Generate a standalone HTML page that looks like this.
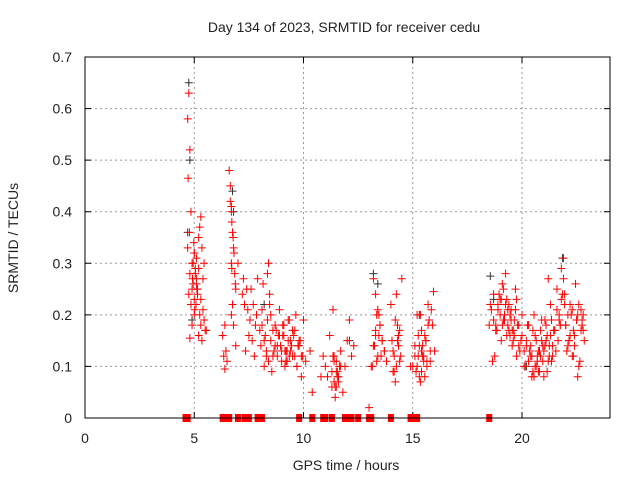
<!DOCTYPE html>
<html><head><meta charset="utf-8"><style>
body{margin:0;background:#fff;}
svg text{font-family:"Liberation Sans",sans-serif;font-size:14px;fill:#222;}
</style></head><body>
<svg id="chart" width="640" height="480" viewBox="0 0 640 480">
<text x="344" y="32" text-anchor="middle">Day 134 of 2023, SRMTID for receiver cedu</text>
<text x="346" y="470" text-anchor="middle">GPS time / hours</text>
<text transform="translate(18,238) rotate(-90)" text-anchor="middle">SRMTID / TECUs</text>
<g id="grid"></g><g id="ticks"></g><g id="black"></g><g id="red"></g>
<rect x="85" y="57" width="525" height="361" fill="none" stroke="#000" stroke-width="1"/>
</svg>
<script>
const xTicks=[0,5,10,15,20];
const yTicks=[0,0.1,0.2,0.3,0.4,0.5,0.6,0.7];
const yTickLabels=["0","0.1","0.2","0.3","0.4","0.5","0.6","0.7"];
const zeroTimes=[4.6,4.7,6.3,6.4,6.6,7.0,7.3,7.5,7.9,8.1,9.8,10.4,10.9,11.0,11.3,11.9,12.0,12.2,12.5,13.0,13.1,14.0,14.9,15.0,15.2,18.5];
const redTimes=[4.7,4.75,4.8,4.72,4.85,4.78,4.7,4.9,4.8,4.95,4.75,4.85,5.0,4.9,5.05,5.1,4.8,5.2,5.0,5.3,5.25,5.35,5.4,5.15,5.4,5.45,5.5,5.2,5.3,5.1,4.9,5.0,5.45,5.55,
6.3,6.35,6.4,6.4,6.45,6.5,6.6,6.65,6.7,6.72,6.75,6.8,6.7,6.85,6.9,6.75,6.7,6.8,6.9,7.0,7.2,7.25,7.3,7.35,7.5,7.55,7.6,7.7,7.8,7.85,7.9,
8.0,8.05,8.1,8.2,8.3,8.35,8.4,8.15,8.25,8.5,8.6,8.7,8.8,8.9,9.0,9.1,9.2,9.3,9.4,9.5,9.6,9.7,9.8,9.9,10.0,8.45,8.65,8.85,9.05,9.25,9.45,9.65,9.85,9.95,8.55,8.75,9.15,9.35,9.55,9.75,10.1,10.3,10.4,
10.8,10.9,11.0,11.1,11.2,11.3,11.4,11.5,11.6,11.7,11.8,11.9,12.0,12.1,12.2,12.3,11.35,11.45,11.55,11.65,11.5,11.4,
13.0,13.1,13.2,13.3,13.4,13.5,13.6,13.7,13.8,13.25,13.35,13.45,13.55,13.15,13.3,14.0,14.1,14.2,14.3,14.4,14.5,14.15,14.25,14.35,14.45,14.2,14.3,
14.9,15.0,15.1,15.2,15.3,15.4,15.5,15.6,15.7,15.8,15.9,16.0,15.15,15.35,15.55,15.75,15.95,15.25,15.45,15.65,15.85,15.4,
18.5,18.6,18.7,18.8,18.9,19.0,19.1,19.2,19.3,19.4,19.5,19.6,19.7,19.8,19.9,20.0,18.65,18.85,19.05,19.25,19.45,19.65,19.85,18.75,19.15,19.35,19.55,19.75,19.95,
20.1,20.2,20.3,20.4,20.5,20.6,20.7,20.8,20.9,21.0,21.1,21.2,21.3,21.4,21.5,20.15,20.35,20.55,20.75,20.95,21.15,21.35,20.25,20.45,20.65,20.85,21.05,21.25,21.45,
21.6,21.7,21.8,21.9,22.0,22.1,22.2,22.3,22.4,22.5,22.6,22.7,22.8,21.65,21.85,22.05,22.25,22.45,22.65,21.75,21.95,22.15,22.35,22.55,22.75];
const redValues=[0.58,0.63,0.52,0.465,0.40,0.36,0.33,0.30,0.28,0.26,0.24,0.22,0.20,0.18,0.29,0.31,0.155,0.35,0.23,0.39,0.37,0.33,0.27,0.25,0.21,0.19,0.17,0.16,0.23,0.27,0.25,0.32,0.30,0.17,
0.16,0.12,0.095,0.18,0.13,0.11,0.48,0.45,0.41,0.38,0.36,0.33,0.30,0.28,0.25,0.22,0.20,0.18,0.14,0.30,0.24,0.27,0.22,0.13,0.16,0.19,0.25,0.22,0.18,0.20,0.27,
0.17,0.14,0.21,0.10,0.12,0.19,0.30,0.26,0.16,0.15,0.12,0.18,0.14,0.21,0.11,0.16,0.13,0.19,0.15,0.12,0.17,0.10,0.14,0.08,0.19,0.22,0.13,0.16,0.18,0.11,0.14,0.20,0.15,0.12,0.09,0.17,0.13,0.12,0.16,0.14,0.11,0.13,0.05,0.08,
0.12,0.10,0.08,0.16,0.06,0.11,0.09,0.07,0.13,0.05,0.10,0.15,0.19,0.12,0.14,0.21,0.04,0.08,0.10,0.06,0.12,0.02,
0.10,0.27,0.24,0.21,0.18,0.15,0.13,0.11,0.14,0.20,0.16,0.12,0.10,0.17,0.22,0.13,0.19,0.15,0.11,0.27,0.09,0.24,0.16,0.12,0.07,0.18,0.10,
0.10,0.14,0.20,0.08,0.17,0.12,0.15,0.22,0.11,0.18,0.13,0.09,0.07,0.16,0.19,0.245,0.12,0.14,0.10,0.21,0.13,0.18,
0.21,0.24,0.18,0.22,0.20,0.26,0.19,0.23,0.17,0.21,0.15,0.25,0.18,0.13,0.20,0.11,0.17,0.23,0.28,0.16,0.19,0.14,0.12,0.25,0.21,0.17,0.23,0.15,0.10,
0.14,0.18,0.12,0.09,0.16,0.11,0.13,0.19,0.08,0.15,0.27,0.22,0.12,0.17,0.10,0.13,0.20,0.09,0.14,0.16,0.11,0.18,0.08,0.15,0.12,0.19,0.14,0.17,0.25,
0.20,0.29,0.31,0.18,0.14,0.22,0.12,0.16,0.19,0.10,0.21,0.17,0.15,0.24,0.13,0.20,0.26,0.11,0.18,0.22,0.15,0.17,0.08,0.19,0.13];
const redTimes2=[4.95,5.05,5.1,5.15,5.0,4.92,5.08,5.2,5.25,5.12,5.02,4.98,5.3,5.35,
6.78,6.82,6.72,6.88,6.7,6.65,7.4,7.45,7.65,7.75,
8.1,8.2,8.3,8.4,8.5,8.6,8.7,8.8,8.9,9.0,9.1,9.2,9.3,9.4,9.5,9.6,9.7,9.8,9.9,8.35,8.45,8.95,9.05,9.15,9.25,9.35,
11.3,11.4,11.5,11.6,11.7,11.45,11.55,11.35,
13.2,13.3,13.4,13.5,13.6,13.7,13.35,13.45,14.05,14.15,14.25,14.35,14.4,14.1,
15.1,15.2,15.3,15.4,15.5,15.6,15.7,15.8,15.25,15.35,15.45,15.55,15.65,
18.55,18.7,18.8,18.9,19.0,19.1,19.2,19.3,19.4,19.5,19.6,19.7,18.95,19.05,19.15,19.25,19.35,19.45,19.55,19.65,19.75,19.85,
20.0,20.1,20.2,20.3,20.4,20.5,20.6,20.7,20.8,20.9,21.0,21.1,21.2,21.3,21.4,20.45,20.55,20.65,20.75,20.85,20.95,21.05,21.15,21.25,21.35,
21.5,21.6,21.7,21.8,21.9,22.0,22.1,22.2,22.3,22.4,22.5,22.6,22.7,22.8,22.85,21.55,21.75,21.95,22.15,22.35,22.55,22.75];
const redValues2=[0.30,0.28,0.26,0.24,0.32,0.27,0.22,0.29,0.20,0.25,0.21,0.34,0.18,0.15,
0.35,0.32,0.29,0.26,0.40,0.42,0.25,0.21,0.15,0.12,
0.18,0.15,0.13,0.11,0.20,0.17,0.14,0.12,0.16,0.13,0.18,0.11,0.15,0.13,0.17,0.12,0.10,0.15,0.12,0.28,0.24,0.14,0.16,0.10,0.13,0.19,
0.09,0.07,0.11,0.08,0.10,0.06,0.09,0.12,
0.14,0.16,0.12,0.18,0.15,0.13,0.11,0.20,0.15,0.12,0.10,0.14,0.17,0.09,
0.12,0.10,0.14,0.09,0.11,0.15,0.18,0.13,0.16,0.20,0.12,0.08,0.11,
0.22,0.19,0.17,0.21,0.23,0.18,0.20,0.16,0.22,0.19,0.17,0.21,0.24,0.15,0.19,0.22,0.18,0.20,0.14,0.16,0.12,0.18,
0.16,0.13,0.15,0.11,0.14,0.17,0.10,0.12,0.09,0.15,0.13,0.18,0.11,0.16,0.14,0.12,0.08,0.10,0.13,0.17,0.11,0.14,0.09,0.12,0.19,
0.17,0.21,0.19,0.23,0.27,0.18,0.20,0.16,0.21,0.14,0.19,0.22,0.17,0.20,0.15,0.13,0.18,0.24,0.15,0.12,0.20,0.18];
const blackTimes=[4.75,4.8,4.7,4.9,6.75,6.8,13.2,13.4,18.55,18.7,21.85,20.2,8.2,12.1,15.3];
const blackValues=[0.65,0.50,0.36,0.19,0.44,0.40,0.28,0.26,0.275,0.23,0.31,0.10,0.22,0.15,0.20];
const X0=85,X1=609.4,Y0=418,Y1=57,XR=610;
const sx=v=>X0+v/24*(X1-X0), sy=v=>Y0-v/0.7*(Y0-Y1);
const NS="http://www.w3.org/2000/svg";
function mk(tag,attrs,parent){const e=document.createElementNS(NS,tag);for(const k in attrs)e.setAttribute(k,attrs[k]);document.getElementById(parent).appendChild(e);return e;}
xTicks.forEach(t=>{const x=sx(t);
 if(t>0){const g=mk('line',{x1:x,x2:x,y1:Y1,y2:Y0,stroke:'#999','stroke-dasharray':'2,3'},'grid');}
 const m=mk('path',{d:`M${x} ${Y0}V${Y0-6}M${x} ${Y1}V${Y1+6}`,stroke:'#000'},'grid');
 const tx=mk('text',{x:x,y:443,'text-anchor':'middle'},'ticks');tx.textContent=t;});
yTicks.forEach((t,i)=>{const y=sy(t);
 if(t>0&&t<0.7){const g=mk('line',{x1:X0,x2:XR,y1:y,y2:y,stroke:'#999','stroke-dasharray':'2,3'},'grid');}
 const m=mk('path',{d:`M${X0} ${y}H${X0+6}M${XR} ${y}H${XR-6}`,stroke:'#000'},'grid');
 const tx=mk('text',{x:72,y:y+5,'text-anchor':'end'},'ticks');tx.textContent=yTickLabels[i];});
function plus(x,y,c,g){return mk('path',{d:`M${x-4} ${y}H${x+4}M${x} ${y-4}V${y+4}`,stroke:c,'stroke-width':1,fill:'none'},g);}
blackTimes.forEach((t,i)=>{const p=plus(sx(t),sy(blackValues[i]),'#333','black');});
redTimes.forEach((t,i)=>{const p=plus(sx(t),sy(redValues[i]),'#f00','red');});
redTimes2.forEach((t,i)=>{const p=plus(sx(t),sy(redValues2[i]),'#f00','red');});
zeroTimes.forEach(t=>{const r=mk('rect',{x:sx(t)-3,y:Y0-4,width:6,height:8,fill:'#f00'},'red');});
</script>
</body></html>
